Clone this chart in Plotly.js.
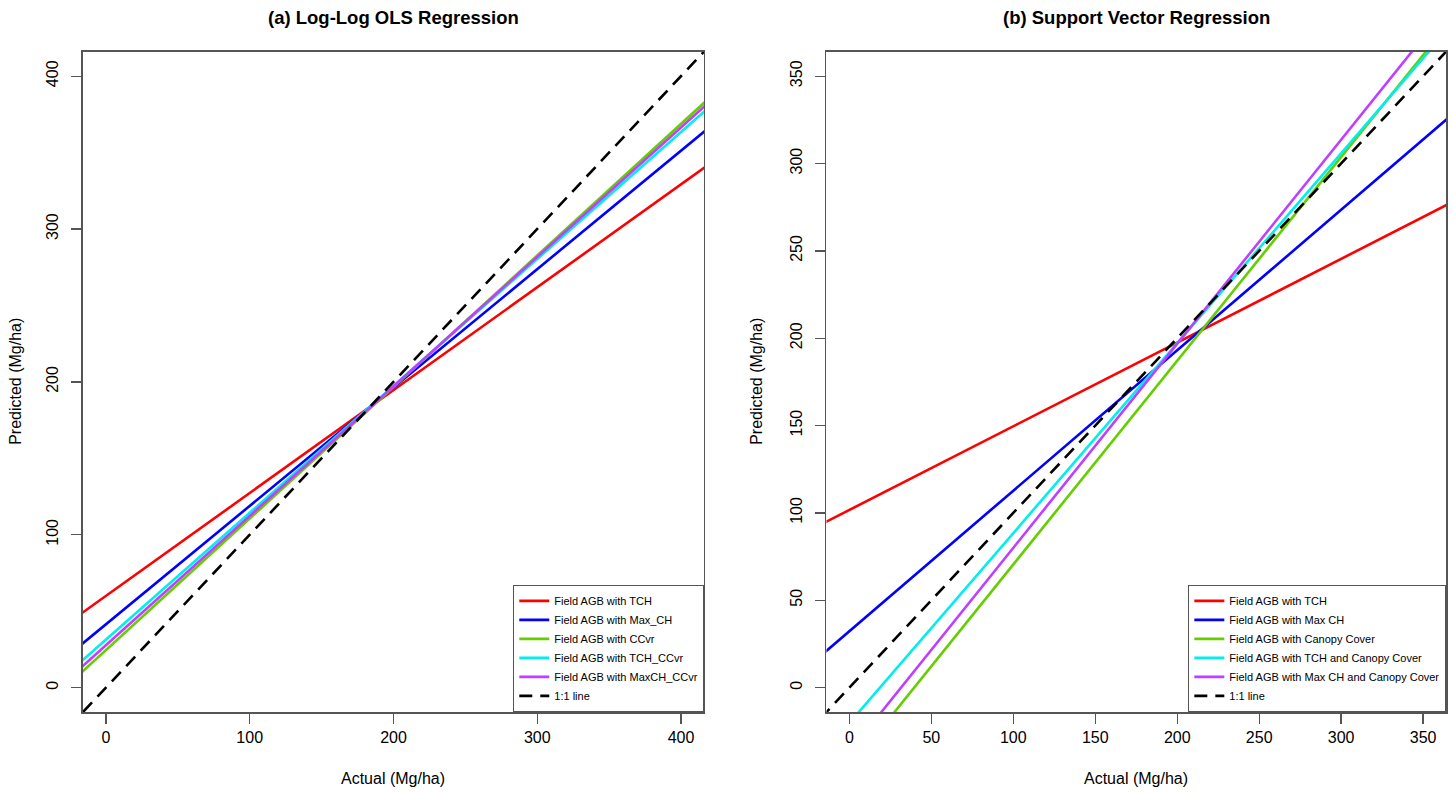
<!DOCTYPE html>
<html>
<head>
<meta charset="utf-8">
<script src="https://cdn.plot.ly/plotly-3.0.1.min.js"></script>
<style>html,body{margin:0;padding:0;background:#fff;}#chart{width:1453px;height:793px;}</style>
</head>
<body>
<div id="chart"></div>
<script>
// ---- Data ----
// Panel (a): Log-Log OLS fitted lines  y = intercept + slope * x
const namesA = ["Field AGB with TCH", "Field AGB with Max_CH", "Field AGB with CCvr", "Field AGB with TCH_CCvr", "Field AGB with MaxCH_CCvr"];
const interceptA = [60.0, 41.4, 24.5, 31.4, 27.7];
const slopeA = [0.673, 0.7745, 0.8606, 0.830, 0.8468];
const rangeA = [-16, 416];
const ticksA = [0, 100, 200, 300, 400];

// Panel (b): Support Vector Regression fitted lines
const namesB = ["Field AGB with TCH", "Field AGB with Max CH", "Field AGB with Canopy Cover", "Field AGB with TCH and Canopy Cover", "Field AGB with Max CH and Canopy Cover"];
const interceptB = [101.7, 32.3, -46.1, -20.25, -36.8];
const slopeB = [0.479, 0.804, 1.166, 1.087, 1.168];
const rangeB = [-14, 364];
const ticksB = [0, 50, 100, 150, 200, 250, 300, 350];

const colors = ["#FF0000", "#0000FF", "#66CD00", "#00EEEE", "#BF3EFF"];
const oneToOneName = "1:1 line";

// ---- Build traces ----
const traces = [];
function addPanel(names, ic, sl, rng, xa, ya, leg) {
  const xs = [rng[0] - 100, rng[1] + 100];
  names.forEach((n, i) => {
    traces.push({
      x: xs, y: xs.map(x => ic[i] + sl[i] * x),
      type: "scatter", mode: "lines", name: n,
      line: {color: colors[i], width: 2.6},
      xaxis: xa, yaxis: ya, legend: leg, hoverinfo: "skip"
    });
  });
  traces.push({
    x: xs, y: xs, type: "scatter", mode: "lines", name: oneToOneName,
    line: {color: "#000", width: 2.6, dash: "13px,8px"},
    xaxis: xa, yaxis: ya, legend: leg, hoverinfo: "skip"
  });
}
addPanel(namesA, interceptA, slopeA, rangeA, "x", "y", "legend");
addPanel(namesB, interceptB, slopeB, rangeB, "x2", "y2", "legend2");

const FONT = "Liberation Sans, Arial, sans-serif";
const axisCommon = {
  showgrid: false, zeroline: false, showline: true, mirror: true,
  linecolor: "#555", linewidth: 1.5,
  ticks: "outside", ticklen: 10, tickwidth: 1.3, tickcolor: "#555",
  tickfont: {family: FONT, size: 16, color: "#000"}
};
const yDomain = [0.1021, 0.9348];
const legendCommon = {
  font: {family: FONT, size: 11, color: "#000"},
  bgcolor: "#fff", bordercolor: "#555", borderwidth: 1.3,
  xanchor: "right", yanchor: "bottom", y: yDomain[0],
  tracegroupgap: 0, itemwidth: 30
};
const ann = (text, x, y, size, angle) => ({
  text: text, xref: "paper", yref: "paper", x: x, y: y,
  xanchor: "center", yanchor: "middle", textangle: angle || 0,
  showarrow: false, font: {family: FONT, size: size, color: "#000"}
});
const cA = (0.0571 + 0.4845) / 2, cB = (0.5688 + 0.9952) / 2, cY = (yDomain[0] + yDomain[1]) / 2;

const layout = {
  width: 1453, height: 793,
  margin: {l: 0, r: 0, t: 0, b: 0},
  paper_bgcolor: "#fff", plot_bgcolor: "#fff",
  font: {family: FONT},
  xaxis: Object.assign({}, axisCommon, {domain: [0.0571, 0.4845], range: rangeA, tickvals: ticksA, anchor: "y"}),
  yaxis: Object.assign({}, axisCommon, {domain: yDomain, range: rangeA, tickvals: ticksA, tickangle: -90, ticklabelstandoff: 7, anchor: "x"}),
  xaxis2: Object.assign({}, axisCommon, {domain: [0.5688, 0.9952], range: rangeB, tickvals: ticksB, anchor: "y2"}),
  yaxis2: Object.assign({}, axisCommon, {domain: yDomain, range: rangeB, tickvals: ticksB, tickangle: -90, ticklabelstandoff: 7, anchor: "x2"}),
  legend: Object.assign({}, legendCommon, {x: 0.4845}),
  legend2: Object.assign({}, legendCommon, {x: 0.9952}),
  annotations: [
    ann("<b>(a) Log-Log OLS Regression</b>", cA, 1 - 18 / 793, 18.5),
    ann("<b>(b) Support Vector Regression</b>", cB, 1 - 18 / 793, 18.5),
    ann("Actual (Mg/ha)", cA, 1 - 778 / 793, 16),
    ann("Actual (Mg/ha)", cB, 1 - 778 / 793, 16),
    ann("Predicted (Mg/ha)", 16 / 1453, cY, 16, -90),
    ann("Predicted (Mg/ha)", 757 / 1453, cY, 16, -90)
  ]
};

Plotly.newPlot("chart", traces, layout, {displayModeBar: false, staticPlot: true});
</script>
</body>
</html>
